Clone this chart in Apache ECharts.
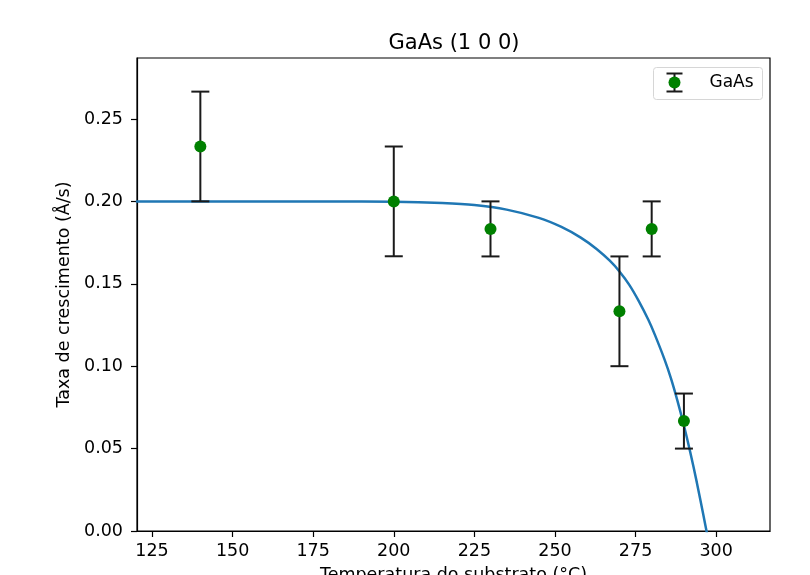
<!DOCTYPE html>
<html>
<head>
<meta charset="utf-8">
<script src="https://cdn.jsdelivr.net/npm/echarts@6/dist/echarts.min.js"></script>
<style>
  html, body { margin: 0; padding: 0; background: #fff; }
  #chart { width: 810px; height: 575px; }
</style>
</head>
<body>
<div id="chart"></div>
<script>
// Measured growth rate vs substrate temperature
const temperatures = [140, 200, 230, 270, 280, 290];
const growthRates = [0.2333, 0.2000, 0.1833, 0.1333, 0.1833, 0.0667];
const rateErrors = [0.0333, 0.0333, 0.0167, 0.0333, 0.0167, 0.0167];

// Fitted curve, sampled along temperature
const fitTemps = [120, 140, 160, 180, 200, 215, 225, 235, 245, 252, 258, 263, 267, 270, 273, 276, 279, 281, 284, 286, 288, 290, 292, 294, 296, 297.5];
const fitRates = [0.2000, 0.2000, 0.2000, 0.2000, 0.1998, 0.1990, 0.1978, 0.1950, 0.1900, 0.1845, 0.1780, 0.1710, 0.1640, 0.1575, 0.1495, 0.1395, 0.1280, 0.1190, 0.1040, 0.0925, 0.0790, 0.0640, 0.0475, 0.0295, 0.0100, -0.0050];

// Tick labels
const xTicks = [125, 150, 175, 200, 225, 250, 275, 300];
const yTicks = [0.00, 0.05, 0.10, 0.15, 0.20, 0.25];

const font = 'DejaVu Sans';
const chart = echarts.init(document.getElementById('chart'), null, { renderer: 'canvas' });

const errData = temperatures.map((t, i) => [t, growthRates[i] - rateErrors[i], growthRates[i] + rateErrors[i]]);

chart.setOption({
  animation: false,
  backgroundColor: '#ffffff',
  title: {
    text: 'GaAs (1 0 0)',
    left: 449, top: 28, textAlign: 'center',
    textStyle: { fontFamily: font, fontSize: 21, fontWeight: 'normal', color: '#000' }
  },
  grid: {
    left: 137, right: 40, top: 58, bottom: 44,
    outerBoundsMode: 'none', containLabel: false,
    show: true, borderColor: '#000', borderWidth: 1.2, backgroundColor: 'transparent'
  },
  xAxis: {
    type: 'value', min: 120.35, max: 316.7,
    name: 'Temperatura do substrato (°C)', nameLocation: 'middle', nameGap: 35,
    nameTextStyle: { fontFamily: font, fontSize: 17.5, color: '#000' },
    axisLine: { show: true, onZero: false, lineStyle: { color: '#000', width: 1.2 } },
    axisTick: { show: true, length: 6, customValues: xTicks, lineStyle: { color: '#000', width: 1.2 } },
    axisLabel: { customValues: xTicks, margin: 11, fontFamily: font, fontSize: 17.5, color: '#000' },
    splitLine: { show: false }
  },
  yAxis: {
    type: 'value', min: 0, max: 0.287,
    name: 'Taxa de crescimento (Å/s)', nameLocation: 'middle', nameGap: 61, nameRotate: 90,
    nameTextStyle: { fontFamily: font, fontSize: 17.5, color: '#000' },
    axisLine: { show: true, onZero: false, lineStyle: { color: '#000', width: 1.2 } },
    axisTick: { show: true, length: 6, customValues: yTicks, lineStyle: { color: '#000', width: 1.2 } },
    axisLabel: { customValues: yTicks, margin: 14, fontFamily: font, fontSize: 17.5, color: '#000',
      formatter: v => v.toFixed(2) },
    splitLine: { show: false }
  },
  series: [
    {
      type: 'line', name: 'fit', data: fitTemps.map((t, i) => [t, fitRates[i]]),
      smooth: 0.3, showSymbol: false, clip: true, z: 2,
      lineStyle: { color: '#1f77b4', width: 2.5 }
    },
    {
      type: 'custom', name: 'GaAs err', data: errData, clip: true, z: 3,
      renderItem: (params, api) => {
        const x = api.value(0);
        const lo = api.coord([x, api.value(1)]);
        const hi = api.coord([x, api.value(2)]);
        const half = 9;
        const style = { stroke: '#1a1a1a', lineWidth: 2, fill: null };
        return {
          type: 'group',
          children: [
            { type: 'line', shape: { x1: lo[0], y1: lo[1], x2: hi[0], y2: hi[1] }, style },
            { type: 'line', shape: { x1: lo[0] - half, y1: lo[1], x2: lo[0] + half, y2: lo[1] }, style },
            { type: 'line', shape: { x1: hi[0] - half, y1: hi[1], x2: hi[0] + half, y2: hi[1] }, style }
          ]
        };
      }
    },
    {
      type: 'scatter', name: 'GaAs', data: temperatures.map((t, i) => [t, growthRates[i]]),
      symbol: 'circle', symbolSize: 12, z: 4,
      itemStyle: { color: '#008000', opacity: 1 }
    }
  ],
  graphic: [
    {
      type: 'group', left: 653, top: 67,
      children: [
        { type: 'rect', shape: { x: 0, y: 0, width: 109, height: 32, r: 3 },
          style: { fill: 'rgba(255,255,255,0.8)', stroke: '#d6d6d6', lineWidth: 1 } },
        { type: 'line', shape: { x1: 21, y1: 6, x2: 21, y2: 24 }, style: { stroke: '#1a1a1a', lineWidth: 2 } },
        { type: 'line', shape: { x1: 13, y1: 6, x2: 29, y2: 6 }, style: { stroke: '#1a1a1a', lineWidth: 2 } },
        { type: 'line', shape: { x1: 13, y1: 24, x2: 29, y2: 24 }, style: { stroke: '#1a1a1a', lineWidth: 2 } },
        { type: 'circle', shape: { cx: 21, cy: 15, r: 6 }, style: { fill: '#008000' } },
        { type: 'text', x: 56, y: 15,
          style: { text: 'GaAs', fontFamily: font, fontSize: 17, fill: '#000', verticalAlign: 'middle', align: 'left' } }
      ]
    }
  ]
});
</script>
</body>
</html>
